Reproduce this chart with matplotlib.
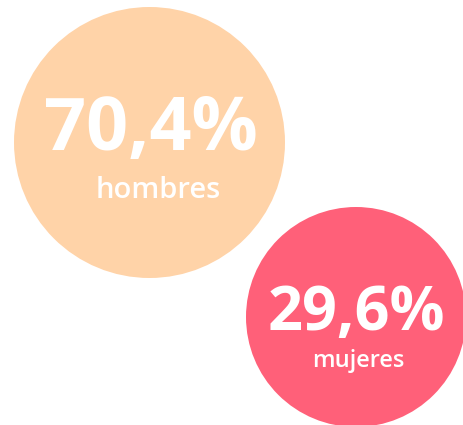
import matplotlib
matplotlib.use("Agg")
import matplotlib.pyplot as plt
from matplotlib.patches import Circle

# data
shares = [70.4, 29.6]
groups = ["hombres", "mujeres"]
colors = ["#FFD3A8", "#FF6079"]

# layout (pixels, origin top-left)
centers = [(149.5, 142.5), (356, 317)]
radii = [135.5, 110]
value_pos = [(151, 150), (356.5, 330)]
label_pos = [(158, 197.5), (358, 367)]
value_sizes = [53, 44]
label_sizes = [21, 17]

W, H = 464, 425

fig = plt.figure(figsize=(W / 100, H / 100), dpi=100)
ax = fig.add_axes([0, 0, 1, 1])
ax.set_xlim(0, W)
ax.set_ylim(H, 0)
ax.set_aspect("equal")
ax.axis("off")

for i in range(len(shares)):
    cx, cy = centers[i]
    ax.add_patch(Circle((cx, cy), radii[i], facecolor=colors[i], edgecolor="none"))
    txt = f"{shares[i]:.1f}%".replace(".", ",")
    ax.text(value_pos[i][0], value_pos[i][1], txt, ha="center", va="baseline",
            color="white", fontsize=value_sizes[i], fontweight="bold",
            family="Open Sans")
    ax.text(label_pos[i][0], label_pos[i][1], groups[i], ha="center",
            va="baseline", color="white", fontsize=label_sizes[i],
            fontweight="semibold", family="Open Sans")

fig.savefig("out.png", dpi=100)
